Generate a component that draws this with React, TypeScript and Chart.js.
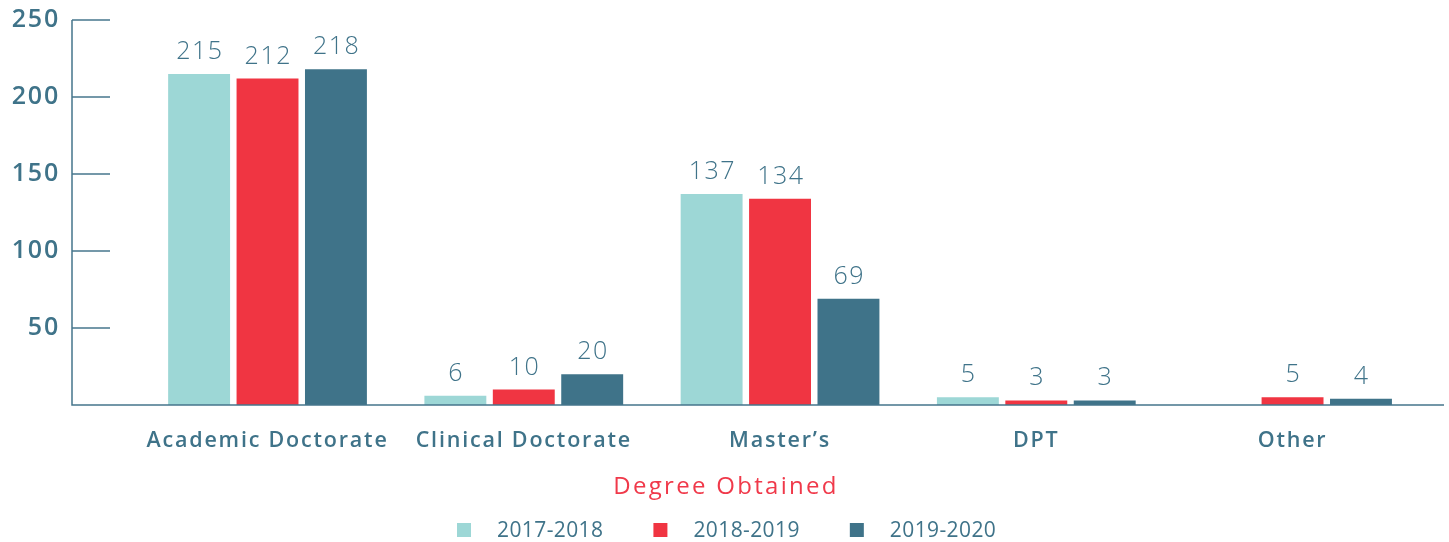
import React, { useEffect, useRef } from 'react';
import { Chart, registerables } from 'chart.js';

Chart.register(...registerables);

const categories = ['Academic Doctorate', 'Clinical Doctorate', 'Master’s', 'DPT', 'Other'];
const seriesNames = ['2017-2018', '2018-2019', '2019-2020'];
const values2017: (number | null)[] = [215, 6, 137, 5, null];
const values2018: (number | null)[] = [212, 10, 134, 3, 5];
const values2019: (number | null)[] = [218, 20, 69, 3, 4];
const yTicks = [50, 100, 150, 200, 250];
const axisTitle = 'Degree Obtained';

const COLORS = ['#9dd7d6', '#f03542', '#3f7389'];
const TEXT = '#3f7389';
const RED = '#f0394a';
const FONT = '"Open Sans", Lato, sans-serif';

const spacing = {
  id: 'spacing',
  beforeDraw(chart: any) {
    (chart.ctx as any).letterSpacing = '1.8px';
  },
};

const customDraw = {
  id: 'customDraw',
  afterDraw(chart: any) {
    const ctx = chart.ctx as any;
    const ys = chart.scales.y;
    const left = chart.chartArea.left;
    const right = chart.chartArea.right;
    const bottom = ys.getPixelForValue(0);
    const top = ys.getPixelForValue(yTicks[yTicks.length - 1]);
    ctx.save();
    ctx.strokeStyle = '#46768c';
    ctx.lineWidth = 1.5;
    ctx.beginPath();
    ctx.moveTo(left, top);
    ctx.lineTo(left, bottom);
    ctx.lineTo(right, bottom);
    ctx.stroke();
    yTicks.forEach((t) => {
      const py = ys.getPixelForValue(t);
      ctx.beginPath();
      ctx.moveTo(left, py);
      ctx.lineTo(left + 38, py);
      ctx.stroke();
    });
    ctx.fillStyle = TEXT;
    ctx.letterSpacing = '1.5px';
    ctx.font = `300 25px ${FONT}`;
    ctx.textAlign = 'center';
    ctx.textBaseline = 'alphabetic';
    chart.data.datasets.forEach((ds: any, di: number) => {
      const meta = chart.getDatasetMeta(di);
      meta.data.forEach((el: any, i: number) => {
        const v = ds.data[i].y;
        if (v === null || v === undefined) return;
        ctx.fillText(String(v), el.x + 0.75, el.y - 15);
      });
    });
    ctx.fillStyle = RED;
    ctx.letterSpacing = '2.3px';
    ctx.font = `400 24px ${FONT}`;
    ctx.textBaseline = 'middle';
    ctx.fillText(axisTitle, 726, 487);
    ctx.letterSpacing = '0.4px';
    ctx.font = `400 21px ${FONT}`;
    const box = 14, gap = 26, sep = 50;
    let x = 457;
    const cy = 530;
    ctx.textAlign = 'left';
    chart.data.datasets.forEach((ds: any) => {
      ctx.fillStyle = ds.backgroundColor;
      ctx.fillRect(x, cy - box / 2, box, box);
      x += box + gap;
      ctx.fillStyle = TEXT;
      ctx.fillText(ds.label, x, cy + 1);
      x += ctx.measureText(ds.label).width + sep;
    });
    ctx.restore();
  },
};

export default function App() {
  const ref = useRef<HTMLCanvasElement>(null);
  useEffect(() => {
    document.body.style.margin = '0';
    const series = [values2017, values2018, values2019];
    const chart = new Chart(ref.current!, {
      type: 'bar',
      data: {
        datasets: series.map((vals, si) => ({
          label: seriesNames[si],
          data: vals.map((v, i) => ({ x: i, y: v })),
          backgroundColor: COLORS[si],
          borderWidth: 0,
          barPercentage: 0.905,
          categoryPercentage: 0.801,
        })),
      },
      options: {
        animation: false,
        responsive: false,
        maintainAspectRatio: false,
        layout: { padding: { top: 20, right: 5, left: 0, bottom: 0 } },
        plugins: { legend: { display: false }, tooltip: { enabled: false } },
        scales: {
          x: {
            type: 'linear',
            offset: false,
            min: -0.763,
            max: 4.591,
            grid: { display: false, drawTicks: false, offset: false },
            border: { display: false },
            afterBuildTicks: (axis: any) => {
              axis.ticks = categories.map((_, i) => ({ value: i }));
            },
            afterFit: (axis: any) => {
              axis.height = 137;
              axis.paddingLeft = 0;
              axis.paddingRight = 0;
            },
            ticks: {
              autoSkip: false,
              maxRotation: 0,
              padding: 23,
              color: TEXT,
              font: { family: FONT, size: 21.5, weight: '600' },
              callback: (v: any) => categories[Math.round(Number(v))] ?? '',
            },
          },
          y: {
            min: 0,
            max: 250,
            grid: { display: false, drawTicks: false },
            border: { display: false },
            afterBuildTicks: (axis: any) => {
              axis.ticks = yTicks.map((v) => ({ value: v }));
            },
            afterFit: (axis: any) => {
              axis.width = 72;
              axis.paddingTop = 0;
              axis.paddingBottom = 0;
            },
            ticks: {
              padding: 12,
              color: TEXT,
              font: { family: FONT, size: 25, weight: '600' },
            },
          },
        },
      },
      plugins: [spacing, customDraw],
    });
    return () => chart.destroy();
  }, []);
  return (
    <div style={{ width: 1449, height: 542 }}>
      <canvas ref={ref} width={1449} height={542} style={{ display: 'block' }} />
    </div>
  );
}
